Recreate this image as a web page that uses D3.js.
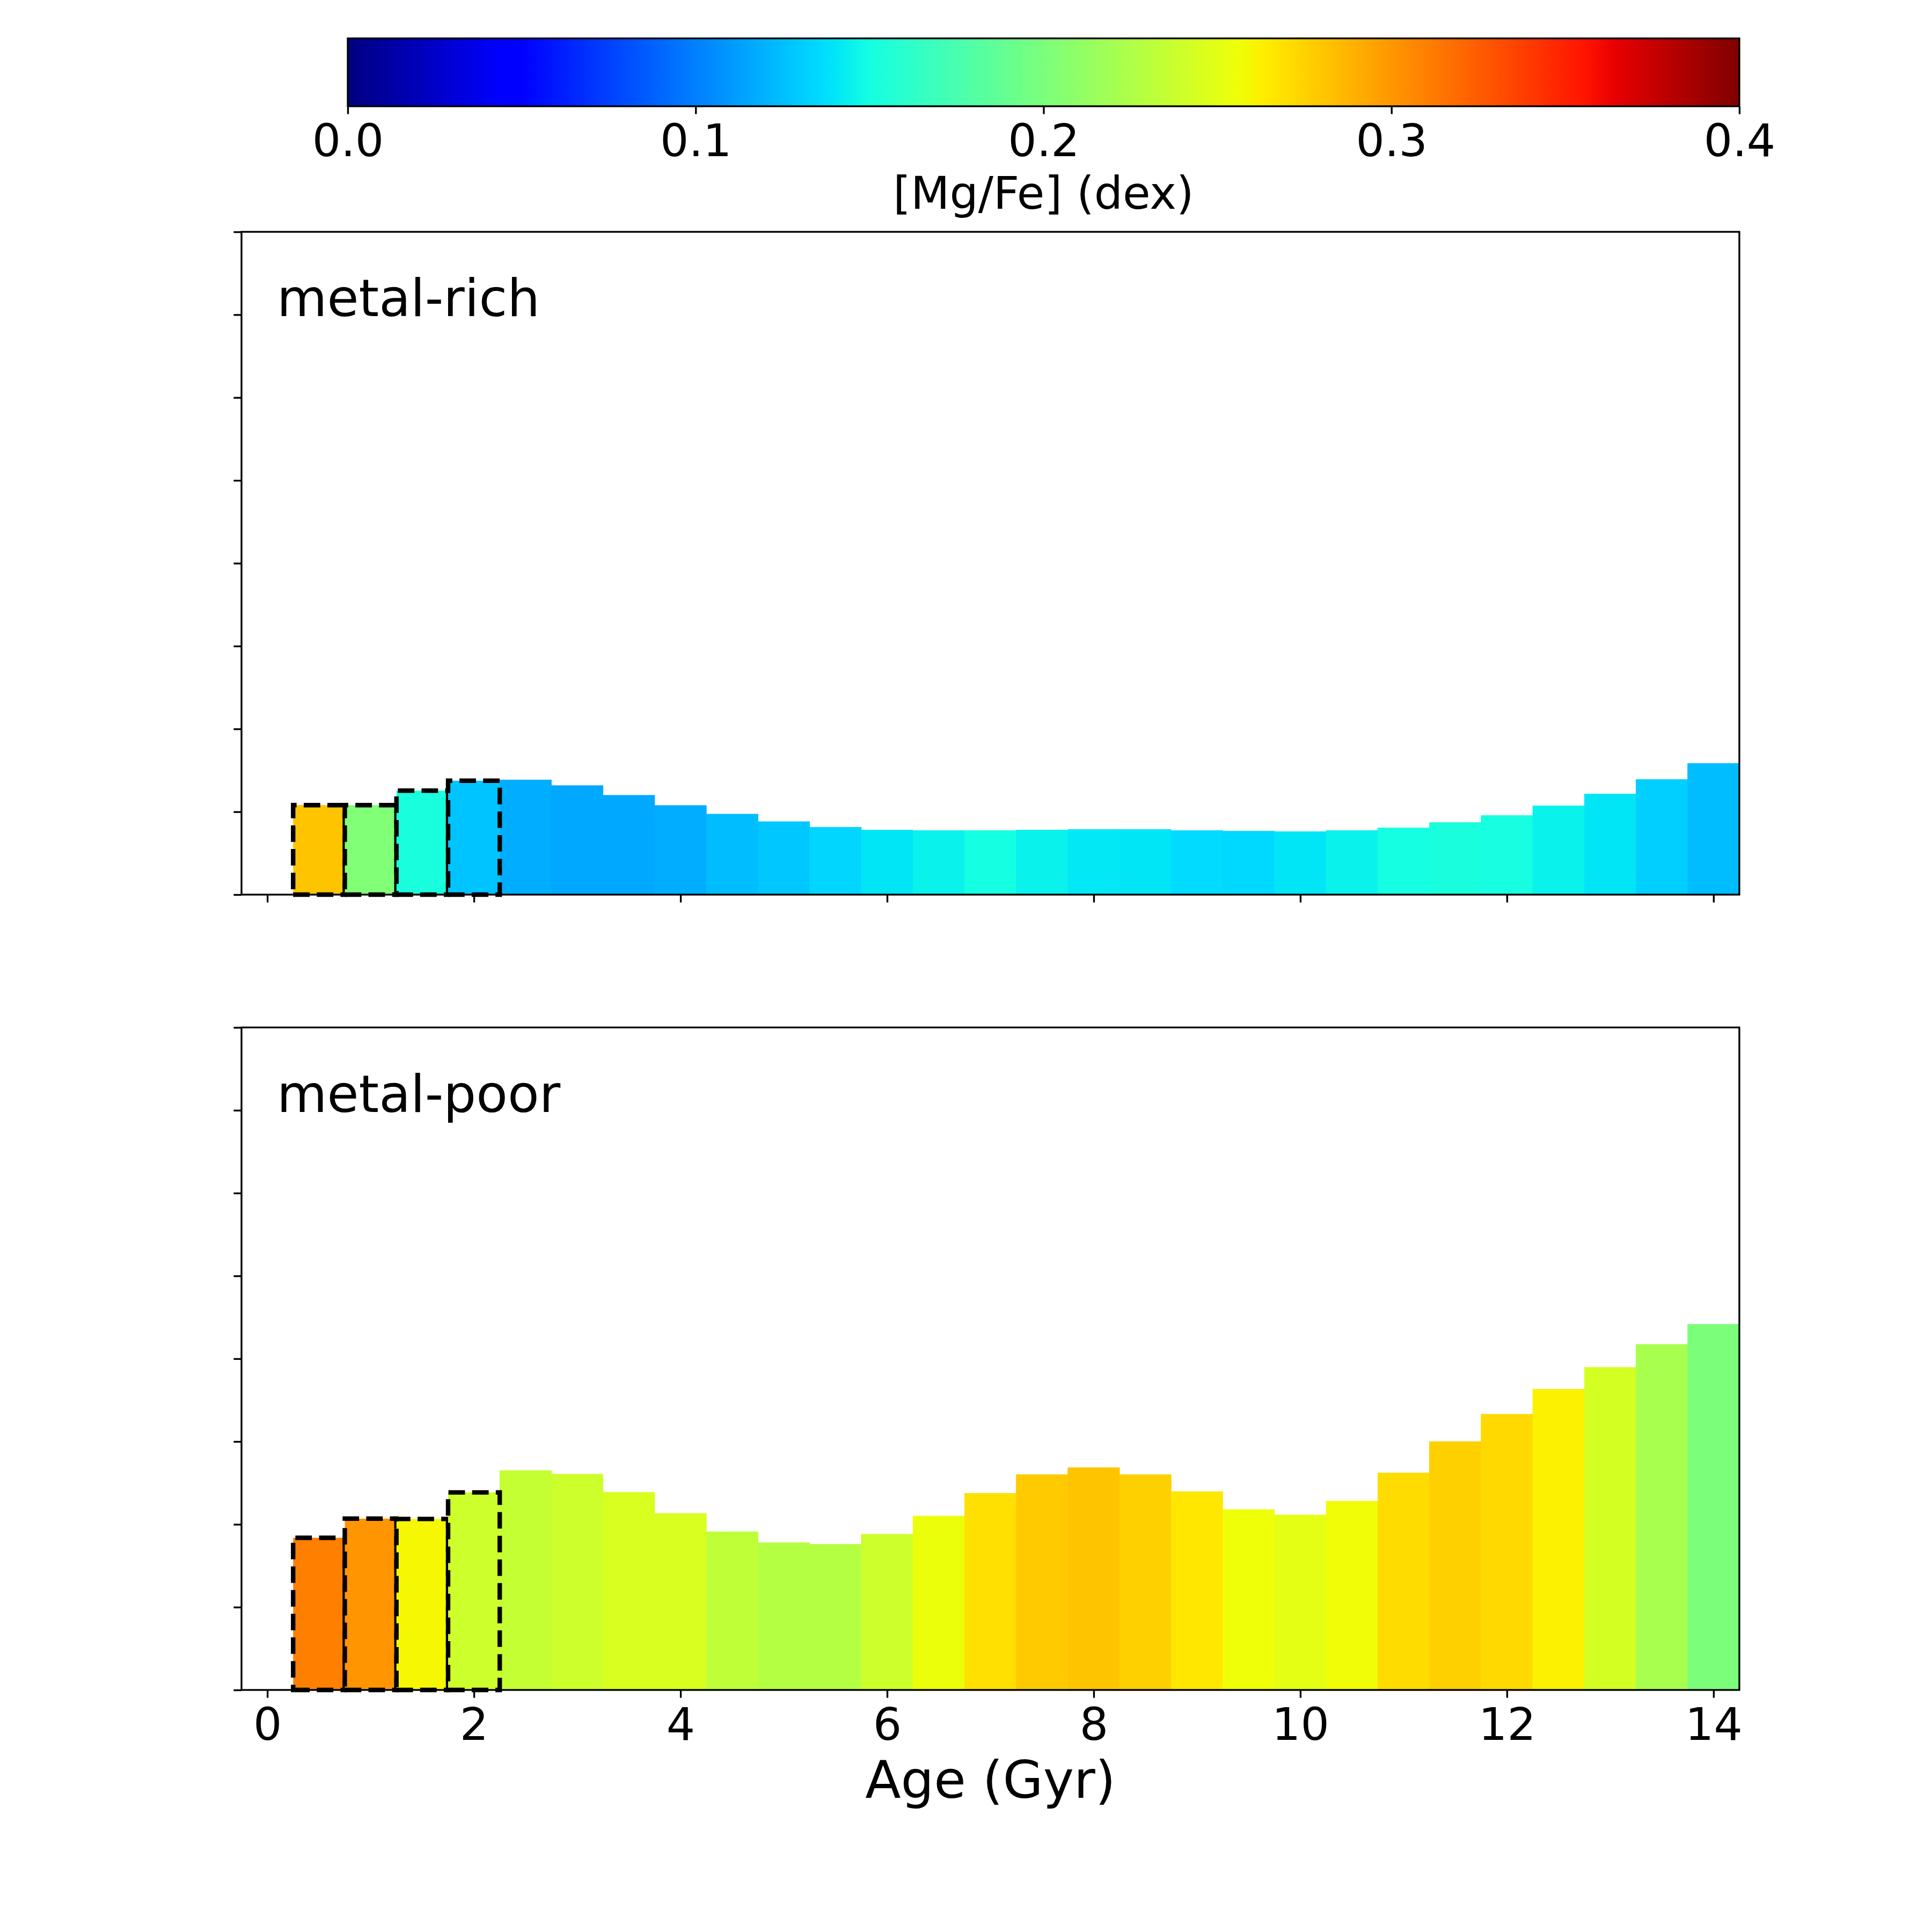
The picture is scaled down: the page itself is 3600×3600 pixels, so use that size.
<!DOCTYPE html>
<html>
<head>
<meta charset="utf-8">
<script src="https://cdn.jsdelivr.net/npm/d3@7"></script>
<style>
  body { margin: 0; background: #fff; }
  text { font-family: "DejaVu Sans", sans-serif; }
</style>
</head>
<body>
<div id="chart"></div>
<script>
// age bins (Gyr), centres of 0.5 Gyr wide bins
var binCenters = [0.5, 1.0, 1.5, 2.0, 2.5, 3.0, 3.5, 4.0, 4.5, 5.0, 5.5, 6.0, 6.5, 7.0,
                  7.5, 8.0, 8.5, 9.0, 9.5, 10.0, 10.5, 11.0, 11.5, 12.0, 12.5, 13.0, 13.5, 14.0];

// metal-rich: histogram heights and mean [Mg/Fe] per bin
var richHeights = [1.08, 1.08, 1.255, 1.375, 1.385, 1.316, 1.199, 1.076, 0.972, 0.881, 0.814, 0.779, 0.773, 0.773,
                   0.779, 0.786, 0.786, 0.773, 0.766, 0.760, 0.773, 0.805, 0.870, 0.955, 1.071, 1.214, 1.390, 1.584];
var richMgFe = [0.281, 0.202, 0.152, 0.127, 0.118, 0.116, 0.116, 0.118, 0.124, 0.128, 0.134, 0.140, 0.145, 0.150,
                0.145, 0.141, 0.140, 0.136, 0.135, 0.140, 0.145, 0.150, 0.152, 0.151, 0.145, 0.140, 0.131, 0.124];

// metal-poor
var poorHeights = [1.837, 2.069, 2.065, 2.386, 2.650, 2.606, 2.386, 2.132, 1.911, 1.778, 1.759, 1.880, 2.100, 2.374,
                   2.600, 2.684, 2.600, 2.395, 2.178, 2.113, 2.280, 2.622, 3.000, 3.330, 3.631, 3.895, 4.173, 4.415];
var poorMgFe = [0.310, 0.301, 0.259, 0.239, 0.235, 0.239, 0.245, 0.245, 0.233, 0.228, 0.228, 0.239, 0.255, 0.269,
                0.278, 0.281, 0.276, 0.266, 0.256, 0.251, 0.257, 0.271, 0.276, 0.272, 0.262, 0.243, 0.222, 0.200];

// the first bins are outlined with a dashed edge
var dashedBins = [0.5, 1.0, 1.5, 2.0];

var xTicks = [0, 2, 4, 6, 8, 10, 12, 14];
var yTicks = [0, 1, 2, 3, 4, 5, 6, 7, 8];
var cbarTicks = [0.0, 0.1, 0.2, 0.3, 0.4];

var binWidth = 0.5;
var W = 3600, H = 3600;
var lw = 3.33, tickLen = 14.6;

// matplotlib "jet"
var jetR = [[0, 0], [0.35, 0], [0.66, 1], [0.89, 1], [1, 0.5]];
var jetG = [[0, 0], [0.125, 0], [0.375, 1], [0.64, 1], [0.91, 0], [1, 0]];
var jetB = [[0, 0.5], [0.11, 1], [0.34, 1], [0.65, 0], [1, 0]];
function seg(pts, t) {
    for (var i = 1; i < pts.length; i++) {
        if (t <= pts[i][0]) {
            var a = pts[i - 1], b = pts[i];
            return a[1] + (b[1] - a[1]) * (t - a[0]) / (b[0] - a[0]);
        }
    }
    return pts[pts.length - 1][1];
}
function jet(t) {
    t = Math.max(0, Math.min(1, t));
    return d3.rgb(seg(jetR, t) * 255, seg(jetG, t) * 255, seg(jetB, t) * 255).formatHex();
}
var colour = d3.scaleSequential(jet).domain([0, 0.4]);

var svg = d3.select("#chart").append("svg")
    .attr("width", W).attr("height", H);
svg.append("rect").attr("width", W).attr("height", H).attr("fill", "#fff");

var x = d3.scaleLinear().domain([-0.25, 14.25]).range([450, 3241]);

var panels = [
    {name: "metal-rich", heights: richHeights, mgfe: richMgFe, top: 432, bottom: 1667, labels: false},
    {name: "metal-poor", heights: poorHeights, mgfe: poorMgFe, top: 1914.5, bottom: 3149, labels: true}
];

panels.forEach(function(p) {
    var y = d3.scaleLinear().domain([0, 8]).range([p.bottom, p.top]);
    var g = svg.append("g");

    var bars = binCenters.map(function(c, i) {
        return {c: c, h: p.heights[i], m: p.mgfe[i], dashed: dashedBins.indexOf(c) >= 0};
    });

    // solid bars
    g.append("g").selectAll("rect")
        .data(bars.filter(function(d) { return !d.dashed; }))
        .enter().append("rect")
        .attr("x", function(d) { return x(d.c - binWidth / 2); })
        .attr("width", function(d) { return x(d.c + binWidth / 2) - x(d.c - binWidth / 2); })
        .attr("y", function(d) { return y(d.h); })
        .attr("height", function(d) { return y(0) - y(d.h); })
        .attr("fill", function(d) { return colour(d.m); })
        .attr("stroke", function(d) { return colour(d.m); })
        .attr("stroke-width", 0.8);

    // dashed bars, fill then edge one by one
    bars.filter(function(d) { return d.dashed; }).forEach(function(d) {
        var x0 = x(d.c - binWidth / 2), x1 = x(d.c + binWidth / 2);
        var y0 = y(0), y1 = y(d.h);
        g.append("rect")
            .attr("x", x0).attr("y", y1)
            .attr("width", x1 - x0).attr("height", y0 - y1)
            .attr("fill", colour(d.m));
        g.append("path")
            .attr("d", "M" + x0 + "," + y0 + "L" + x1 + "," + y0 + "L" + x1 + "," + y1 + "L" + x0 + "," + y1 + "Z")
            .attr("fill", "none")
            .attr("stroke", "#000")
            .attr("stroke-width", 8.33)
            .attr("stroke-dasharray", "30.8,13.3");
    });

    // x axis
    var xAxis = d3.axisBottom(x).tickValues(xTicks).tickSize(tickLen).tickSizeOuter(0).tickPadding(19)
        .tickFormat(p.labels ? d3.format("d") : "");
    var gx = g.append("g").attr("transform", "translate(0," + p.bottom + ")").call(xAxis);
    gx.select(".domain").remove();
    gx.selectAll("line").attr("stroke-width", lw);
    gx.selectAll("text").attr("font-size", 84).attr("font-family", "DejaVu Sans").attr("fill", "#000");

    // y axis, ticks only
    var yAxis = d3.axisLeft(y).tickValues(yTicks).tickSize(tickLen).tickSizeOuter(0).tickFormat("");
    var gy = g.append("g").attr("transform", "translate(" + x.range()[0] + ",0)").call(yAxis);
    gy.select(".domain").remove();
    gy.selectAll("line").attr("stroke-width", lw);

    // frame
    g.append("rect")
        .attr("x", x.range()[0]).attr("y", p.top)
        .attr("width", x.range()[1] - x.range()[0]).attr("height", p.bottom - p.top)
        .attr("fill", "none").attr("stroke", "#000").attr("stroke-width", lw);

    g.append("text")
        .attr("x", 516).attr("y", p.top + 157)
        .attr("font-size", 96)
        .text(p.name);
});

// x axis title
svg.append("text")
    .attr("x", (x.range()[0] + x.range()[1]) / 2).attr("y", 3350)
    .attr("text-anchor", "middle").attr("font-size", 97)
    .text("Age (Gyr)");

// colorbar
var cb = {left: 648, right: 3241, top: 71.5, bottom: 198};
var cx = d3.scaleLinear().domain([0, 0.4]).range([cb.left, cb.right]);
var grad = svg.append("defs").append("linearGradient").attr("id", "jetGrad")
    .attr("x1", "0%").attr("x2", "100%").attr("y1", "0%").attr("y2", "0%");
d3.range(0, 257).forEach(function(i) {
    grad.append("stop").attr("offset", (i / 256 * 100) + "%").attr("stop-color", jet(i / 256));
});
svg.append("rect")
    .attr("x", cb.left).attr("y", cb.top)
    .attr("width", cb.right - cb.left).attr("height", cb.bottom - cb.top)
    .attr("fill", "url(#jetGrad)")
    .attr("stroke", "#000").attr("stroke-width", lw);

var cAxis = d3.axisBottom(cx).tickValues(cbarTicks).tickSize(tickLen).tickSizeOuter(0).tickPadding(19)
    .tickFormat(d3.format(".1f"));
var gc = svg.append("g").attr("transform", "translate(0," + cb.bottom + ")").call(cAxis);
gc.select(".domain").remove();
gc.selectAll("line").attr("stroke-width", lw);
gc.selectAll("text").attr("font-size", 84).attr("font-family", "DejaVu Sans").attr("fill", "#000");

svg.append("text")
    .attr("x", (cb.left + cb.right) / 2).attr("y", 389)
    .attr("text-anchor", "middle").attr("font-size", 84)
    .text("[Mg/Fe] (dex)");
</script>
</body>
</html>
